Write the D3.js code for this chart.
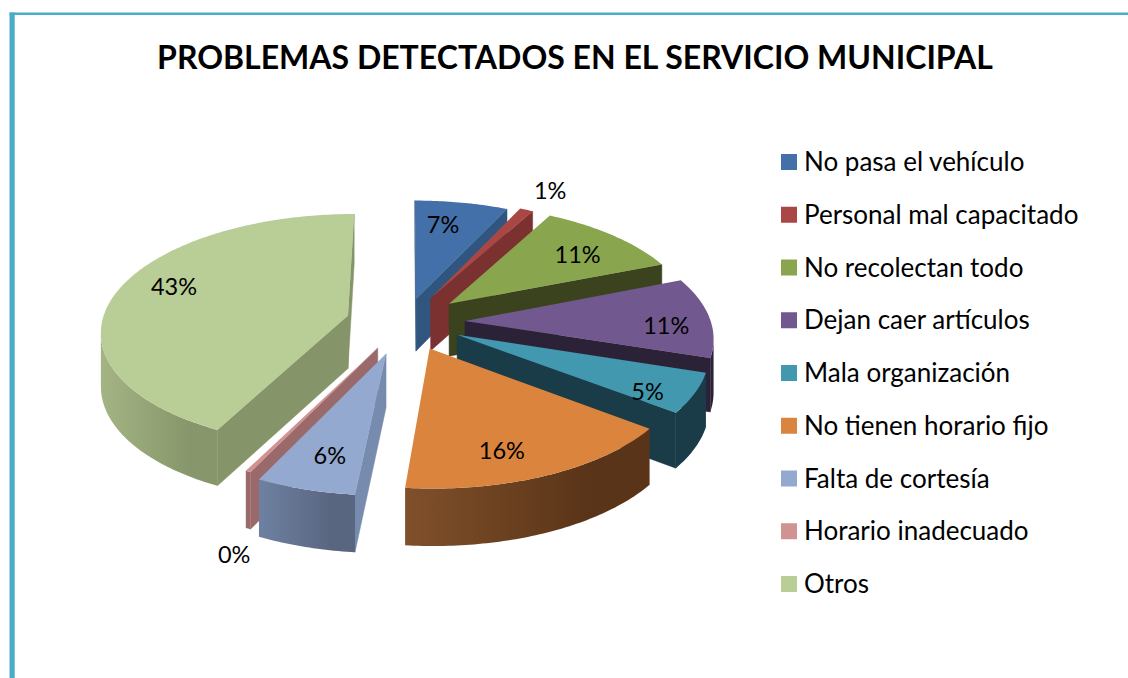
<!DOCTYPE html>
<html>
<head>
<meta charset="utf-8">
<script src="https://cdnjs.cloudflare.com/ajax/libs/d3/7.8.5/d3.min.js"></script>
<style>
  html, body { margin: 0; padding: 0; background: #fff; }
  svg { display: block; }
  text { font-family: Lato, sans-serif; fill: #000; }
</style>
</head>
<body>
<svg id="chart" width="1128" height="678"></svg>
<script>
var categories = ['No pasa el vehículo', 'Personal mal capacitado', 'No recolectan todo', 'Dejan caer artículos',
  'Mala organización', 'No tienen horario fijo', 'Falta de cortesía', 'Horario inadecuado', 'Otros'];
var values = [7, 1, 11, 11, 5.4, 16.2, 5.6, 0.3, 42.6];
var title = 'PROBLEMAS DETECTADOS EN EL SERVICIO MUNICIPAL';

// how far each slice is pulled out of the pie, px
var explode = [52, 58, 60, 60, 58, 60, 68, 60, 59];
var topColors = ['#4370a8', '#aa4644', '#89a54e', '#71588f', '#4198af', '#db843d', '#93a9cf', '#d19392', '#b9cd96'];
var faceColors = ['#305680', '#7a3130', '#3b421e', '#2c2238', '#1a3c48', '#5a3418', '#768bad', '#9a6a6a', '#86946a'];
var wallLeft = ['#305680', '#7a3130', '#3b421e', '#2c2238', '#1a3c48', '#80502a', '#6e81a2', '#9a6a6a', '#a5b484'];
var wallRight = ['#305680', '#7a3130', '#3b421e', '#2c2238', '#1a3c48', '#5a3418', '#596680', '#9a6a6a', '#87976b'];
// label offset from the middle of the slice, px
var labelNudge = [[-6, -4], [11, -7], [11, 0], [30, 8], [27, 17], [-7, 17], [-2, 11], [16, 55], [-12, -10]];
var labelReach = [0.7, 1.15, 0.7, 0.7, 0.7, 0.7, 0.7, 1.2, 0.7];

var cx = 405, cy = 322, radius = 246, thickness = 53;
var tilt = 0.47, persp = 0.0005;

var svg = d3.select('#chart');
var defs = svg.append('defs');

// frame
svg.append('rect').attr('x', 9.5).attr('y', 12.5).attr('width', 1119).attr('height', 2.5).attr('fill', '#4bacc6');
svg.append('rect').attr('x', 9.5).attr('y', 12.5).attr('width', 5.2).attr('height', 666).attr('fill', '#4bacc6');

svg.append('text')
  .attr('x', 575)
  .attr('y', 69)
  .attr('text-anchor', 'middle')
  .attr('font-size', 32)
  .attr('font-weight', 700)
  .text(title);

function project(X, Y, Z) {
  var s = 1 / (1 + persp * Y);
  // height shrinks less than the ground does
  return [cx + X * s, cy - tilt * Y * s - Z * Math.sqrt(s)];
}

function slicePoint(d, r, a, z) {
  var X = d.explode * Math.sin(d.mid) + r * Math.sin(a);
  var Y = d.explode * Math.cos(d.mid) + r * Math.cos(a);
  return project(X, Y, z);
}

// clockwise on screen (y down) gives a positive value
function shoelace(p) {
  var sum = 0;
  p.forEach(function(q, i) {
    var n = p[(i + 1) % p.length];
    sum += q[0] * n[1] - n[0] * q[1];
  });
  return sum;
}

var line = d3.line().curve(d3.curveLinearClosed);

var slices = d3.pie().sort(null)(values).map(function(d, i) {
  d.i = i;
  d.explode = explode[i];
  d.mid = (d.startAngle + d.endAngle) / 2;
  d.key = (d.explode + radius / 2) * Math.cos(d.mid);
  return d;
});
var total = d3.sum(values);

var drawOrder = slices.slice().sort(function(a, b) { return d3.descending(a.key, b.key); });

drawOrder.forEach(function(d) {
  var g = svg.append('g').attr('class', 'slice');
  var n = Math.max(2, Math.ceil((d.endAngle - d.startAngle) / 0.015));
  var angles = d3.range(n + 1).map(function(k) { return d.startAngle + (d.endAngle - d.startAngle) * k / n; });

  // cut faces, only the ones turned to the viewer
  var tipTop = slicePoint(d, 0, 0, 0), tipBot = slicePoint(d, 0, 0, -thickness);
  var startFace = [tipTop, slicePoint(d, radius, d.startAngle, 0), slicePoint(d, radius, d.startAngle, -thickness), tipBot];
  var endFace = [tipTop, slicePoint(d, radius, d.endAngle, 0), slicePoint(d, radius, d.endAngle, -thickness), tipBot];
  if (shoelace(startFace) < 0) {
    g.append('path').attr('d', line(startFace)).attr('fill', faceColors[d.i]).attr('stroke', faceColors[d.i]).attr('stroke-width', 0.5);
  }
  if (shoelace(endFace) > 0) {
    g.append('path').attr('d', line(endFace)).attr('fill', faceColors[d.i]).attr('stroke', faceColors[d.i]).attr('stroke-width', 0.5);
  }

  // outer wall, the stretch where x runs right to left
  var wallTop = [], wallBot = [];
  angles.forEach(function(a, k) {
    var p = slicePoint(d, radius, a, 0);
    var next = slicePoint(d, radius, angles[Math.min(k + 1, n)], 0);
    var prev = slicePoint(d, radius, angles[Math.max(k - 1, 0)], 0);
    if (next[0] < p[0] || prev[0] > p[0]) {
      wallTop.push(p);
      wallBot.push(slicePoint(d, radius, a, -thickness));
    }
  });
  if (wallTop.length > 1) {
    var xs = d3.extent(wallTop, function(p) { return p[0]; });
    var grad = defs.append('linearGradient')
      .attr('id', 'wall-' + d.i)
      .attr('gradientUnits', 'userSpaceOnUse')
      .attr('x1', xs[0]).attr('x2', xs[0] + (xs[1] - xs[0]) * 0.75).attr('y1', 0).attr('y2', 0);
    grad.append('stop').attr('offset', 0).attr('stop-color', wallLeft[d.i]);
    grad.append('stop').attr('offset', 1).attr('stop-color', wallRight[d.i]);
    g.append('path')
      .attr('d', line(wallTop.concat(wallBot.reverse())))
      .attr('fill', 'url(#wall-' + d.i + ')');
  }

  // top face
  var top = [tipTop].concat(angles.map(function(a) { return slicePoint(d, radius, a, 0); }));
  g.append('path').attr('d', line(top)).attr('fill', topColors[d.i]);
});

// labels go last so that no slice covers them
svg.selectAll('.pct')
  .data(slices)
  .enter()
  .append('text')
  .attr('class', 'pct')
  .attr('text-anchor', 'middle')
  .attr('font-size', 23.5)
  .attr('x', function(d) { return slicePoint(d, radius * labelReach[d.i], d.mid, 0)[0] + labelNudge[d.i][0]; })
  .attr('y', function(d) { return slicePoint(d, radius * labelReach[d.i], d.mid, 0)[1] + labelNudge[d.i][1] + 8; })
  .text(function(d) { return d3.format('.0%')(d.value / total); });

// legend
var legendY = d3.scalePoint().domain(categories).range([162, 584]);
var legend = svg.selectAll('.legend')
  .data(categories)
  .enter()
  .append('g')
  .attr('class', 'legend')
  .attr('transform', function(d) { return 'translate(781,' + legendY(d) + ')'; });
legend.append('rect')
  .attr('y', -8)
  .attr('width', 16)
  .attr('height', 16)
  .attr('fill', function(d, i) { return topColors[i]; });
legend.append('text')
  .attr('x', 23)
  .attr('y', 9)
  .attr('font-size', 26)
  .text(function(d) { return d; });
</script>
</body>
</html>
